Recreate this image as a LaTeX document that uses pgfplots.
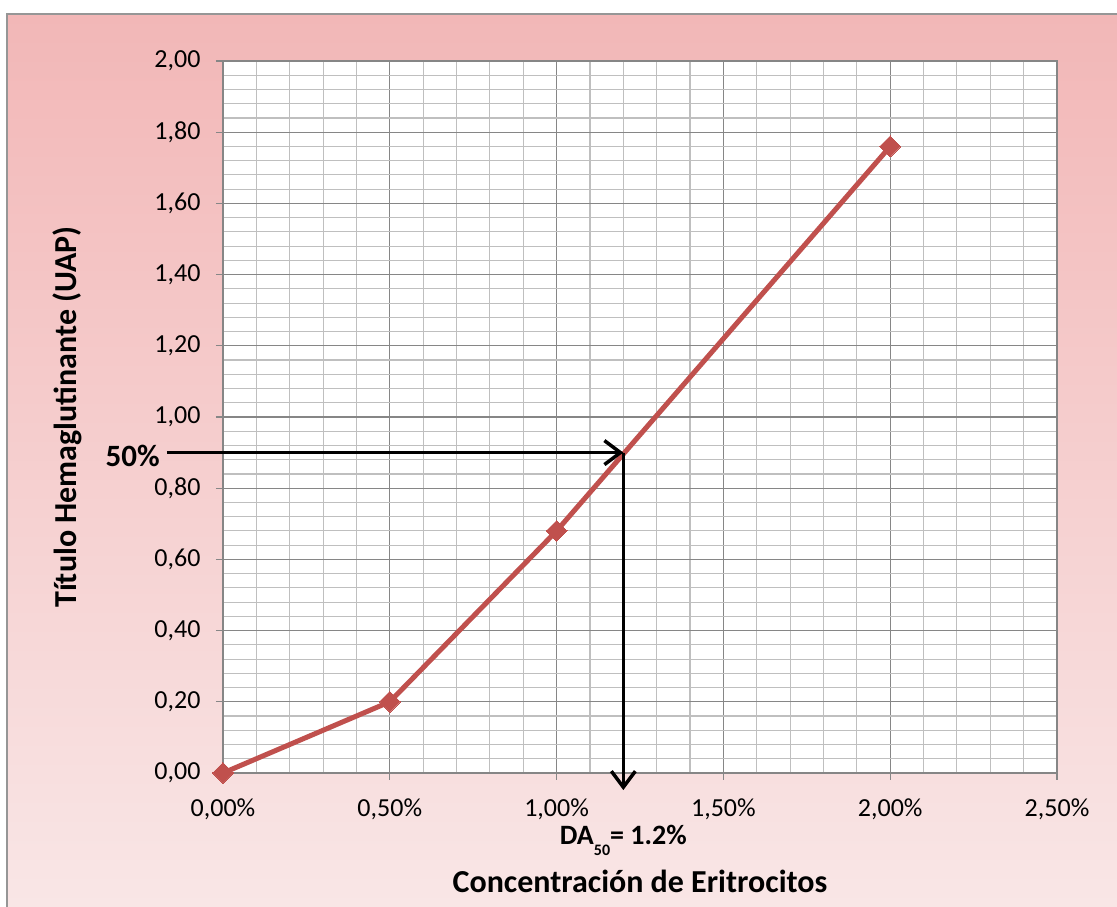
\documentclass[border=0pt]{standalone}
\usepackage{fontspec}
\setmainfont{Carlito}
\usepackage{pgfplots}
\pgfplotsset{compat=1.18}
\usetikzlibrary{arrows.meta}

\definecolor{seriesred}{RGB}{192,80,77}
\definecolor{majorgrid}{RGB}{134,134,134}
\definecolor{minorgrid}{RGB}{191,191,191}
\definecolor{bgtop}{RGB}{242,183,183}
\definecolor{bgbottom}{RGB}{249,230,230}
\definecolor{framegray}{RGB}{150,150,150}

\begin{document}
\begin{tikzpicture}[x=1pt,y=1pt]
% chart area
\fill[white] (0,0) rectangle (1117,907);
\shade[top color=bgtop, bottom color=bgbottom] (7,0) rectangle (1117,893);
\draw[framegray, line width=1.5pt] (7,0) -- (7,893) -- (1117,893);

\begin{axis}[
  at={(223pt,134pt)}, anchor=south west,
  scale only axis, width=834pt, height=712pt,
  xmin=0, xmax=2.5, ymin=0, ymax=2,
  xtick={0,0.5,1,1.5,2,2.5},
  ytick={0,0.2,0.4,0.6,0.8,1,1.2,1.4,1.6,1.8,2},
  minor x tick num=4, minor y tick num=4,
  grid=both,
  major grid style={majorgrid, line width=1.2pt},
  minor grid style={minorgrid, line width=1.1pt},
  axis line style={majorgrid, line width=1.2pt},
  axis background/.style={fill=white},
  tick pos=left, tick align=outside,
  major tick length=7pt, minor tick length=0pt,
  tick style={majorgrid, line width=1.2pt},
  /pgf/number format/.cd, fixed, fixed zerofill, precision=2, use comma, assume math mode=true,
  /pgfplots/.cd,
  ticklabel style={font=\fontsize{26}{30}\selectfont},
  x tick label style={yshift=-15pt},
  y tick label style={xshift=-12pt},
  xticklabel={\pgfmathprintnumber{\tick}\%},
  xlabel={Concentración de Eritrocitos},
  ylabel={Título Hemaglutinante (UAP)},
  label style={font=\fontsize{32}{38}\selectfont\bfseries},
  xlabel style={at={(axis description cs:0.5,-0.152)}, anchor=center},
  ylabel style={at={(axis description cs:-0.187,0.5)}, anchor=center},
  clip=false,
]
\addplot[seriesred, line width=5pt, line join=round,
  mark=square*, mark size=7.4pt,
  mark options={rotate=45, fill=seriesred, draw=seriesred, line width=0pt}]
  coordinates {(0,0) (0.5,0.2) (1,0.68) (2,1.76)};

% 50 % reading and the resulting DA50
\draw[line width=3.5pt, -{Straight Barb[length=16pt, width=24pt]}]
  (axis cs:-0.168,0.9) -- (axis cs:1.2,0.9);
\draw[line width=3.5pt, -{Straight Barb[length=16pt, width=24pt]}]
  (axis cs:1.2,0.9) -- (axis cs:1.2,-0.048);
\node[anchor=east, font=\fontsize{31}{36}\selectfont\bfseries, inner sep=0pt]
  at (axis cs:-0.189,0.89) {50\%};
\node[anchor=base, font=\fontsize{28}{33}\selectfont\bfseries, inner sep=0pt]
  at (axis cs:1.2,-0.202) {DA\raisebox{-11pt}{\fontsize{16}{16}\selectfont 50}= 1.2\%};
\end{axis}

\pgfresetboundingbox
\path[use as bounding box] (0,0) rectangle (1117,907);
\end{tikzpicture}
\end{document}
